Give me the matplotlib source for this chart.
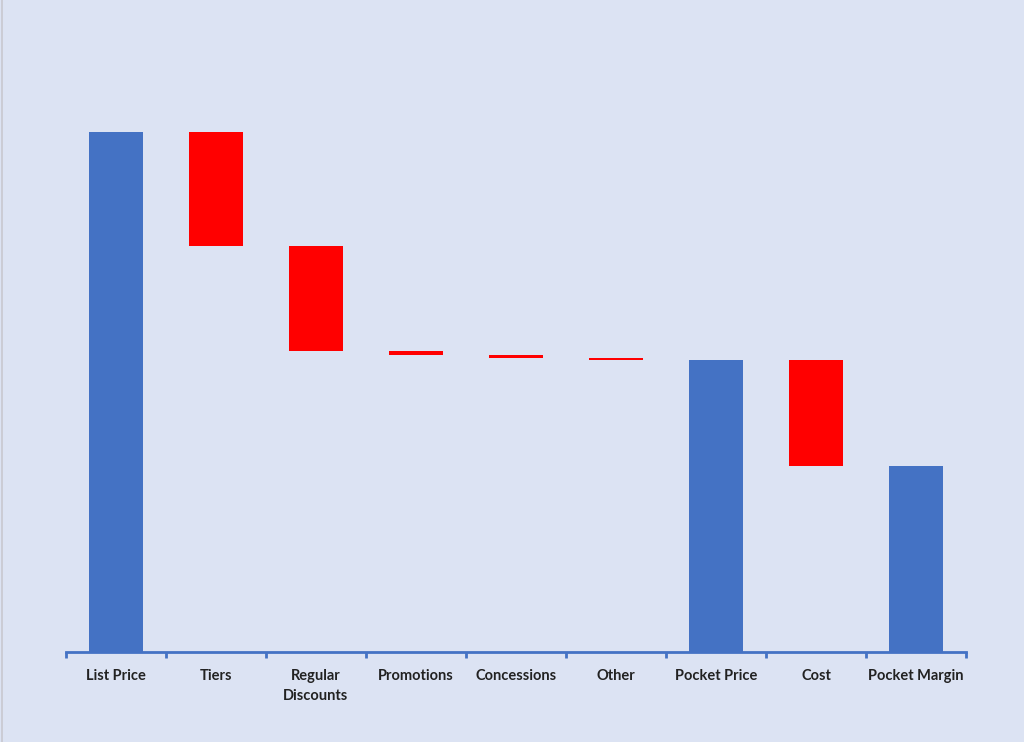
import matplotlib
matplotlib.use("Agg")
import matplotlib.pyplot as plt
from matplotlib.lines import Line2D

# waterfall data (percent of list price)
categories = ["List Price", "Tiers", "Regular\nDiscounts", "Promotions", "Concessions",
              "Other", "Pocket Price", "Cost", "Pocket Margin"]
values = [100, -22.0, -20.1, -0.8, -0.6, -0.4, None, -20.4, None]
kinds = ["total", "step", "step", "step", "step", "step", "total", "step", "total"]

bg = "#DCE3F3"
blue = "#4472C4"
red = "#FF0000"

fig = plt.figure(figsize=(10.24, 7.42), dpi=100, facecolor=bg)
ax = fig.add_axes([66 / 1024, 90 / 742, 900 / 1024, 612 / 742])
ax.set_facecolor(bg)

# build bases and heights
running = 0
bottoms, heights, colors = [], [], []
for v, k in zip(values, kinds):
    if k == "total":
        if v is not None:
            running = v
        bottoms.append(0)
        heights.append(running)
        colors.append(blue)
    else:
        bottoms.append(running + v)
        heights.append(-v)
        colors.append(red)
        running += v

x = range(len(categories))
ax.bar(x, heights, bottom=bottoms, width=0.54, color=colors)

ax.set_xlim(-0.5, len(categories) - 0.5)
ax.set_ylim(0, 117.7)

for side in ["left", "right", "top"]:
    ax.spines[side].set_visible(False)
ax.spines["bottom"].set_color(blue)
ax.spines["bottom"].set_linewidth(2)

ax.set_yticks([])
ax.set_xticks(list(x))
ax.set_xticklabels(categories, fontsize=10.5, fontweight="bold", family="Lato",
                   color="#222222", linespacing=1.55)
ax.tick_params(axis="x", which="major", length=0, pad=12)
ax.set_xticks([i - 0.5 for i in range(len(categories) + 1)], minor=True)
ax.tick_params(axis="x", which="minor", length=4, width=2, color=blue, direction="out")
for lbl in ax.get_xticklabels():
    lbl.set_verticalalignment("top")

# faint frame line on the left edge
fig.add_artist(Line2D([0.002, 0.002], [0, 1], color="#C8C8D0", linewidth=1.2,
                      transform=fig.transFigure))

fig.savefig("out.png", dpi=100, facecolor=bg)
